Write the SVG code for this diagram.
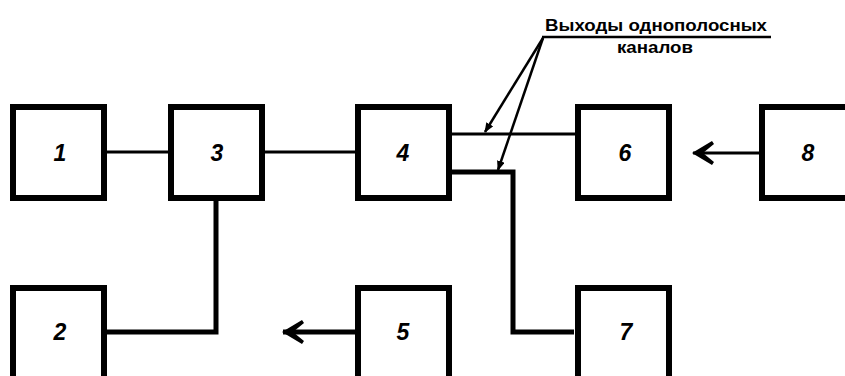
<svg xmlns="http://www.w3.org/2000/svg" width="845" height="376" viewBox="0 0 845 376">
<style>
.box{fill:#fff;stroke:#000;stroke-width:6}
.num{font-family:"Liberation Sans",Arial,sans-serif;font-weight:bold;font-style:italic;font-size:23px;text-anchor:middle;fill:#000}
.thin{fill:none;stroke:#000;stroke-width:3}
.thick{fill:none;stroke:#000;stroke-width:5}
.lead{fill:none;stroke:#000;stroke-width:2.5}
.cap{font-family:"Liberation Sans",Arial,sans-serif;font-weight:bold;font-size:17px;fill:#000}
</style>
<defs>
<marker id="arr" viewBox="0 0 22 26" refX="21" refY="13" markerWidth="22" markerHeight="26" markerUnits="userSpaceOnUse" orient="auto">
<path d="M22,13 L2,1 L0,4 L11,13 L0,22 L2,25 Z" fill="#000"/>
</marker>
<marker id="dot" viewBox="0 0 10 8" refX="9" refY="4" markerWidth="10" markerHeight="8" markerUnits="userSpaceOnUse" orient="auto">
<path d="M0,0 L10,4 L0,8 Z" fill="#000"/>
</marker>
</defs>
<rect width="845" height="376" fill="#fff"/>
<g id="connectors">
<line class="thin" x1="107" y1="152" x2="168" y2="152"/>
<line class="thin" x1="265" y1="152" x2="355" y2="152"/>
<polyline class="thick" points="216,201 216,332 107,332"/>
<line class="thin" x1="452" y1="134" x2="575" y2="134"/>
<polyline class="thick" points="452,172 513,172 513,332 574,332"/>
<line class="thick" x1="355" y1="332" x2="283" y2="332" marker-end="url(#arr)"/>
<line class="thin" x1="759" y1="153" x2="693" y2="153" marker-end="url(#arr)"/>
</g>
<g id="label-outputs">
<text class="cap" x="545" y="31" textLength="222" lengthAdjust="spacingAndGlyphs">Выходы однополосных</text>
<line class="lead" x1="542" y1="37" x2="771" y2="37"/>
<text class="cap" x="617" y="53" textLength="76" lengthAdjust="spacingAndGlyphs">каналов</text>
<line class="lead" x1="543" y1="38" x2="485" y2="132" marker-end="url(#dot)"/>
<line class="lead" x1="543" y1="38" x2="498" y2="170" marker-end="url(#dot)"/>
</g>
<g id="n1"><rect class="box" x="13" y="107" width="91" height="91"/><text class="num" x="60" y="161">1</text></g>
<g id="n3"><rect class="box" x="171" y="107" width="91" height="91"/><text class="num" x="217" y="161">3</text></g>
<g id="n4"><rect class="box" x="358" y="107" width="91" height="91"/><text class="num" x="403" y="161">4</text></g>
<g id="n6"><rect class="box" x="578" y="107" width="91" height="91"/><text class="num" x="625" y="161">6</text></g>
<g id="n8"><rect class="box" x="762" y="107" width="91" height="91"/><text class="num" x="808" y="161">8</text></g>
<g id="n2"><rect class="box" x="13" y="288" width="91" height="91"/><text class="num" x="60" y="340">2</text></g>
<g id="n5"><rect class="box" x="358" y="288" width="91" height="91"/><text class="num" x="403" y="340">5</text></g>
<g id="n7"><rect class="box" x="578" y="288" width="91" height="91"/><text class="num" x="626" y="340">7</text></g>
</svg>
